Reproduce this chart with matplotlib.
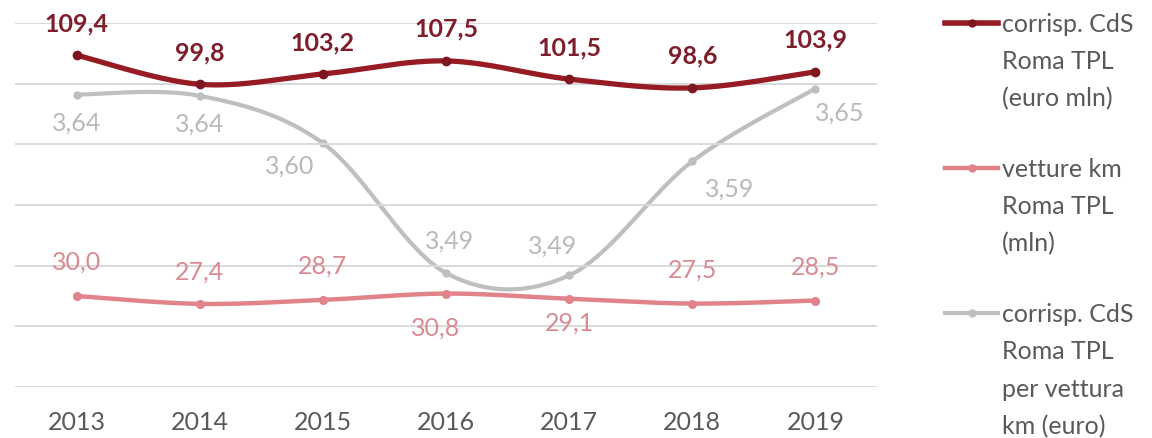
import numpy as np
import matplotlib
matplotlib.use("Agg")
import matplotlib.pyplot as plt
from matplotlib.lines import Line2D

plt.rcParams['font.family'] = ['Lato', 'DejaVu Sans']

# ---------------- data ----------------
years = ['2013', '2014', '2015', '2016', '2017', '2018', '2019']
corrisp_mln = [109.4, 99.8, 103.2, 107.5, 101.5, 98.6, 103.9]
vetture_km_mln = [30.0, 27.4, 28.7, 30.8, 29.1, 27.5, 28.5]
corrisp_per_km = [3.641, 3.640, 3.601, 3.494, 3.492, 3.586, 3.646]

legend_labels = [
    ['corrisp. CdS', 'Roma TPL', '(euro mln)'],
    ['vetture km', 'Roma TPL', '(mln)'],
    ['corrisp. CdS', 'Roma TPL', 'per vettura', 'km (euro)'],
]

# label offsets in pixels (dx, dy of baseline)
off_red = [(0, 24)] * 7
off_pink = [(0, 26), (0, 24), (0, 26), (-10, -42), (0, -32), (0, 26), (0, 26)]
off_grey = [(0, -36), (0, -36), (-33, -30), (4, 24), (-17, 22), (37, -35), (24, -32)]

RED = '#961B22'
RED_TXT = '#7E1E2B'
PINK = '#E2838A'
PINK_TXT = '#D98A92'
GREY = '#BFBFBF'
GREY_TXT = '#B9B9B9'
TXT = '#595959'


def smooth(xs, ys, n=40):
    xs = np.asarray(xs, float)
    ys = np.asarray(ys, float)
    P = np.column_stack([xs, ys])
    out = []
    for i in range(len(P) - 1):
        p0 = P[i - 1] if i > 0 else P[i]
        p1 = P[i]
        p2 = P[i + 1]
        p3 = P[i + 2] if i + 2 < len(P) else P[i + 1]
        c1 = p1 + (p2 - p0) / 6.0
        c2 = p2 - (p3 - p1) / 6.0
        t = np.linspace(0, 1, n)[:, None]
        seg = ((1 - t) ** 3) * p1 + 3 * ((1 - t) ** 2) * t * c1 + 3 * (1 - t) * t ** 2 * c2 + t ** 3 * p2
        out.append(seg if i == 0 else seg[1:])
    s = np.vstack(out)
    return s[:, 0], s[:, 1]


W, H = 1152, 438
fig = plt.figure(figsize=(W / 100, H / 100), dpi=100)
ax = fig.add_axes([15 / W, 1 - 387 / H, 862 / W, 364 / H])
x = np.arange(len(years))

ax.set_xlim(-0.5, len(years) - 0.5)
ax.set_ylim(0, 120)
ax.set_yticks(np.arange(0, 121, 20))
ax.yaxis.grid(True, color='#D9D9D9', lw=1.4)
ax.set_axisbelow(True)
ax.set_xticks(x)
ax.set_xticklabels(years, fontsize=18, color=TXT)
ax.tick_params(axis='x', length=0, pad=17)
ax.tick_params(axis='y', length=0, labelleft=False)
for s in ax.spines.values():
    s.set_visible(False)

ax2 = ax.twinx()
ax2.set_ylim(3.40, 3.70)
ax2.tick_params(axis='y', length=0, labelright=False)
for s in ax2.spines.values():
    s.set_visible(False)

# grey series (secondary axis)
sx, sy = smooth(x, corrisp_per_km)
ax2.plot(sx, sy, color=GREY, lw=3, solid_capstyle='round', zorder=2)
ax2.plot(x, corrisp_per_km, 'o', color=GREY, ms=5, zorder=3)
for xi, v, (dx, dy) in zip(x, corrisp_per_km, off_grey):
    ax2.annotate(f'{v:.2f}'.replace('.', ','), (xi, v), xytext=(dx, dy),
                 textcoords='offset pixels', ha='center', va='baseline',
                 fontsize=18, color=GREY_TXT)

# pink series
sx, sy = smooth(x, vetture_km_mln)
ax.plot(sx, sy, color=PINK, lw=3.2, solid_capstyle='round', zorder=4)
ax.plot(x, vetture_km_mln, 'o', color=PINK, ms=5.5, zorder=5)

# red series
sx, sy = smooth(x, corrisp_mln)
ax.plot(sx, sy, color=RED, lw=3.8, solid_capstyle='round', zorder=4)
ax.plot(x, corrisp_mln, 'o', color='#7E1620', ms=6, zorder=5)

# primary axes content above secondary
ax.set_zorder(ax2.get_zorder() + 1)
ax.patch.set_visible(False)
ax2.patch.set_visible(False)

for xi, v, (dx, dy) in zip(x, vetture_km_mln, off_pink):
    ax.annotate(f'{v:.1f}'.replace('.', ','), (xi, v), xytext=(dx, dy),
                textcoords='offset pixels', ha='center', va='baseline',
                fontsize=18, color=PINK_TXT)
for xi, v, (dx, dy) in zip(x, corrisp_mln, off_red):
    ax.annotate(f'{v:.1f}'.replace('.', ','), (xi, v), xytext=(dx, dy),
                textcoords='offset pixels', ha='center', va='baseline',
                fontsize=18, color=RED_TXT, fontweight='bold')

# legend (manual, first text line aligned with handle)
handles = [(RED, 4, '#7E1620'), (PINK, 3.2, PINK), (GREY, 3, GREY)]
entry_top = [31.7, 176.7, 321.7]
for (col, lw, mc), lines, base in zip(handles, legend_labels, entry_top):
    hy = 1 - (base - 8.5) / H
    fig.add_artist(Line2D([945 / W, 998 / W], [hy, hy], color=col, lw=lw,
                          transform=fig.transFigure))
    fig.add_artist(Line2D([971.5 / W], [hy], color=mc, marker='o', ms=5,
                          transform=fig.transFigure))
    for k, t in enumerate(lines):
        fig.text(1002 / W, 1 - (base + 37.5 * k) / H, t, fontsize=18,
                 color=TXT, ha='left', va='baseline')

fig.savefig('out.png', dpi=100)
